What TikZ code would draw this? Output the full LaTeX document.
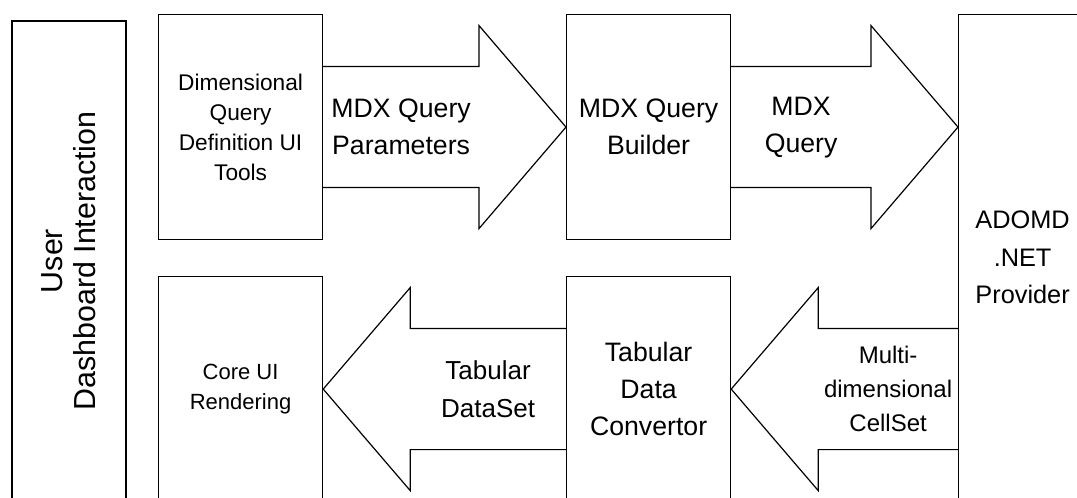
\documentclass[tikz,border=0pt]{standalone}
\usepackage{fontspec}
\setmainfont{Liberation Sans}
\usepackage{tikz}
\usetikzlibrary{calc}
\tikzstyle{box} = [draw,line width=0.9pt,align=center,inner sep=0pt,anchor=north west,minimum width=123pt,minimum height=168.75pt]
\tikzstyle{bigarrow} = [draw,line width=0.9pt,line join=miter]
\tikzstyle{lbl} = [align=center,inner sep=0pt]
\newcommand{\bigtxt}{\fontsize{20}{27.75}\selectfont}
\newcommand{\smalltxt}{\fontsize{17}{22.5}\selectfont}

\begin{document}
\begin{tikzpicture}[x=0.75pt,y=-0.75pt]
    % Picture size, the boxes run out at the bottom and the right:
    \useasboundingbox (0,0) rectangle (1077,498);
    \clip (0,0) rectangle (1077,498);

    % Boxes:
    \node[box,anchor=center,rotate=90,minimum width=360pt,minimum height=85.5pt,
          font=\fontsize{22.8}{25}\selectfont] (user) at (69,261) {User\\Dashboard Interaction};
    \node[box,font=\smalltxt] (dqd) at (158,14) {Dimensional\\Query\\Definition UI\\Tools};
    \node[box,font=\bigtxt] (builder) at (566,14) {MDX Query\\Builder};
    \node[box,minimum width=96pt,minimum height=364.5pt,font=\fontsize{19}{28}\selectfont] (adomd) at (958,14) {ADOMD\\.NET\\Provider};
    \node[box,font=\fontsize{16.5}{22.5}\selectfont] (coreui) at (158,276) {Core UI\\Rendering};
    \node[box,font=\fontsize{20}{28}\selectfont] (converter) at (566,276) {Tabular\\Data\\Convertor};

    % Ends on the provider box:
    \coordinate (tip2) at (builder.east -| adomd.west);
    \coordinate (tail4) at (converter.east -| adomd.west);

    % Block arrows: tail, tip and direction (1 = right, -1 = left)
    \foreach \tail/\tip/\s in {dqd.east/builder.west/1, builder.east/tip2/1,
                               converter.west/coreui.east/-1, tail4/converter.east/-1}{%
        \draw[bigarrow] ($(\tail)+(0,-60.5)$) -- ($(\tip)+(-87*\s,-60.5)$)
            -- ($(\tip)+(-87*\s,-101.5)$) -- (\tip) -- ($(\tip)+(-87*\s,101.5)$)
            -- ($(\tip)+(-87*\s,60.5)$) -- ($(\tail)+(0,60.5)$);
    }

    % Arrow labels, in the middle of the shafts:
    \node[lbl,font=\bigtxt] (params) at ($(dqd.east)!0.5!(builder.west)+(-43.5,0)$) {MDX Query\\Parameters};
    \node[lbl,font=\bigtxt] (query) at ($(builder.east)!0.5!(tip2)+(-43.5,0)$) {MDX\\Query};
    \node[lbl,font=\fontsize{19.5}{28.5}\selectfont] (dataset) at ($(converter.west)!0.5!(coreui.east)+(43.5,0)$) {Tabular\\DataSet};
    \node[lbl,font=\fontsize{18}{25.5}\selectfont] (cellset) at ($(tail4)!0.5!(converter.east)+(43.5,0)$) {Multi-\\dimensional\\CellSet};
\end{tikzpicture}
\end{document}
